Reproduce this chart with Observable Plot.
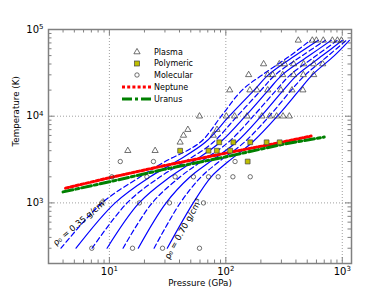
<!DOCTYPE html>
<html><head><meta charset="utf-8">
<script src="https://cdn.jsdelivr.net/npm/d3@7"></script>
<script src="https://cdn.jsdelivr.net/npm/@observablehq/plot@0.6"></script>
<style>body{margin:0;background:#fff;} svg{font-family:"DejaVu Sans",sans-serif;}</style>
</head><body><div id="chart"></div>
<script>
// ---- data ----
const densities = ["0.35","0.40","0.45","0.50","0.55","0.60","0.65","0.70"];
const isoTemps = [300,1000,2000,3000,5000,10000,20000,30000,50000,75000];
const iso035 = [3.84,8.65,18.4,30.1,60.3,91.3,138,206,358,532];
const iso040 = [5.17,11.2,22.4,37.5,66.6,107,175,232,395,623];
const iso045 = [7.10,14.2,27.3,44.8,77.9,125,201,266,454,716];
const iso050 = [9.55,18.0,33.3,52.5,89.5,147,232,305,521,805];
const iso055 = [13.1,23.3,40.6,61.5,105,172,271,358,599,908];
const iso060 = [17.7,30.7,49.4,73.5,123,201,312,411,675,1002];
const iso065 = [24.2,40.6,61.5,87.7,144,236,365,482,759,1084];
const iso070 = [31.4,52.5,74.9,105,169,277,428,553,855,1151];
const isoP = [iso035,iso040,iso045,iso050,iso055,iso060,iso065,iso070];

const plasmaP = [419,553,599,687,822,908,983, 211,288,320,382,466,568,679, 157,229,253,308,382,463,568,
                 108,161,185,229,297,370,459, 59.4,101,119,152,204,238,273,310,351, 47.2,84, 43.3,78, 40.5, 14.4,24.7];
const plasmaT = [75000,75000,75000,75000,75000,75000,75000, 40000,40000,40000,40000,40000,40000,40000,
                 30000,30000,30000,30000,30000,30000,30000, 20000,20000,20000,20000,20000,20000,20000,
                 10000,10000,10000,10000,10000,10000,10000,10000,10000, 7000,7000, 6000,6000, 5000, 4000,4000];
const polyP = [87.8,116,162,224,290, 40.5,71,83.7,109, 154];
const polyT = [5000,5000,5000,5000,5000, 4000,4000,4000,4000, 3000];
const molP = [12.4,23.9,120, 10.5,21,36.7,52.7,71,86,115,162, 8.6,18.1,32.8,64.3, 7.06,15.8,28.6,59.4];
const molT = [3000,3000,3000, 2000,2000,2000,2000,2000,2000,2000,2000, 1000,1000,1000,1000, 300,300,300,300];
const neptuneP = [4.2,10,30,100,300,540];
const neptuneT = [1480,1950,2700,3750,5000,5900];
const uranusP = [4.0,10,30,100,300,700];
const uranusT = [1340,1750,2450,3400,4700,5750];
const xMajor = [10,100,1000];
const yMajor = [1000,10000,100000];
const xMinor = [4,5,6,7,8,9,20,30,40,50,60,70,80,90,200,300,400,500,600,700,800,900];
const yMinor = [300,400,500,600,700,800,900,2000,3000,4000,5000,6000,7000,8000,9000,20000,30000,40000,50000,60000,70000,80000,90000];
const rhoLabels = ["ρ₀ = 0.35 g/cm³","ρ₀ = 0.70 g/cm³"];
const rhoLabelP = [5.6,43];
const rhoLabelT = [600,500];
const rhoLabelAngle = [-40,-61];
const legendLabels = ["Plasma","Polymeric","Molecular","Neptune","Uranus"];

// ---- build ----
const W=390,H=293, mL=48, mR=39, mT=29, mB=30;
const iw=W-mL-mR, ih=H-mT-mB;
const zip=(a,b)=>a.map((v,i)=>({P:v,T:b[i]}));
const gridC="#a0a0a0", frameC="#808080";

const isoMarks = isoP.map((arr,i)=>Plot.line(zip(arr,isoTemps),{x:"P",y:"T",stroke:"#0000ff",strokeWidth:1.2,
   strokeDasharray: i%2===0 ? "5,3" : null, curve:"catmull-rom"}));

const svg = Plot.plot({
  width:W,height:H,marginLeft:mL,marginRight:mR,marginTop:mT,marginBottom:mB,
  style:{fontFamily:"DejaVu Sans",fontSize:"9.5px",background:"#fff",color:"#000"},
  x:{type:"log",domain:[3,1200]},
  y:{type:"log",domain:[200,1e5]},
  marks:[
    Plot.ruleX(xMajor,{stroke:gridC,strokeDasharray:"1,2"}),
    Plot.ruleY(yMajor.slice(0,2),{stroke:gridC,strokeDasharray:"1,2"}),
    ...isoMarks,
    Plot.line(zip(neptuneP,neptuneT),{x:"P",y:"T",stroke:"#ff0000",strokeWidth:3,strokeDasharray:"3,2.2"}),
    Plot.line(zip(uranusP,uranusT),{x:"P",y:"T",stroke:"#008000",strokeWidth:3,strokeDasharray:"10,3,3,3"}),
    Plot.dot(zip(plasmaP,plasmaT),{x:"P",y:"T",symbol:"triangle",r:2.3,stroke:"#333",strokeWidth:0.7,fill:"none"}),
    Plot.dot(zip(polyP,polyT),{x:"P",y:"T",symbol:"square",r:2.7,stroke:"#444",strokeWidth:0.7,fill:"#bfbf00"}),
    Plot.dot(zip(molP,molT),{x:"P",y:"T",symbol:"circle",r:2.2,stroke:"#333",strokeWidth:0.7,fill:"none"}),
    ...rhoLabels.map((s,i)=>Plot.text([s],{x:()=>rhoLabelP[i],y:()=>rhoLabelT[i],text:d=>d,rotate:rhoLabelAngle[i],fontSize:8.5,fill:"#000"})),
    // ticks (inward on all four sides)
    Plot.ruleX(xMajor,{insetTop:ih-6,stroke:frameC}),
    Plot.ruleX(xMajor,{insetBottom:ih-6,stroke:frameC}),
    Plot.ruleX(xMinor,{insetTop:ih-3.5,stroke:frameC}),
    Plot.ruleX(xMinor,{insetBottom:ih-3.5,stroke:frameC}),
    Plot.ruleY(yMajor,{insetRight:iw-6,stroke:frameC}),
    Plot.ruleY(yMajor,{insetLeft:iw-6,stroke:frameC}),
    Plot.ruleY(yMinor,{insetRight:iw-3.5,stroke:frameC}),
    Plot.ruleY(yMinor,{insetLeft:iw-3.5,stroke:frameC}),
    Plot.frame({stroke:frameC,strokeWidth:1.5}),
    Plot.axisX(xMajor,{tickSize:0,tickPadding:4,tickFormat:d=>"10^"+Math.round(Math.log10(d)),label:null,fontSize:10}),
    Plot.axisY(yMajor,{tickSize:0,tickPadding:5,tickFormat:d=>"10^"+Math.round(Math.log10(d)),label:null,fontSize:10}),
    Plot.text(["Pressure (GPa)"],{frameAnchor:"bottom",dy:22,fontSize:8.7,fill:"#000"}),
    Plot.text(["Temperature (K)"],{frameAnchor:"left",dx:-32,rotate:-90,fontSize:8.7,fill:"#000"})
  ]
});

// superscript exponents on tick labels
d3.select(svg).selectAll("text").each(function(){
  const m=(this.textContent||"").match(/^10\^(\d+)$/);
  if(m){const s=d3.select(this);s.text(null);s.append("tspan").text("10");
    s.append("tspan").attr("dy","-0.5em").attr("font-size","70%").text(m[1]);}
});

// legend (inside plot, upper left)
const lg=d3.select(svg).append("g").attr("font-size",8).attr("font-family","DejaVu Sans").attr("text-anchor","start");
const ly=[52,63.5,75,87,99];
const sx=137, tx=154;
lg.append("path").attr("d",d3.symbol(d3.symbolTriangle,16.6)()).attr("transform",`translate(${sx},${ly[0]})`)
  .attr("fill","none").attr("stroke","#333").attr("stroke-width",0.7);
lg.append("rect").attr("x",sx-2.5).attr("y",ly[1]-2.5).attr("width",5).attr("height",5)
  .attr("fill","#bfbf00").attr("stroke","#444").attr("stroke-width",0.7);
lg.append("circle").attr("cx",sx).attr("cy",ly[2]).attr("r",2.2).attr("fill","none").attr("stroke","#333").attr("stroke-width",0.7);
lg.append("line").attr("x1",122).attr("x2",152).attr("y1",ly[3]).attr("y2",ly[3]).attr("stroke","#ff0000")
  .attr("stroke-width",3).attr("stroke-dasharray","3,2.2");
lg.append("line").attr("x1",122).attr("x2",152).attr("y1",ly[4]).attr("y2",ly[4]).attr("stroke","#008000")
  .attr("stroke-width",3).attr("stroke-dasharray","10,3,3,3");
legendLabels.forEach((t,i)=>lg.append("text").attr("x",tx).attr("y",ly[i]).attr("dy","0.35em").attr("fill","#000").text(t));

document.getElementById("chart").appendChild(svg);
</script></body></html>
